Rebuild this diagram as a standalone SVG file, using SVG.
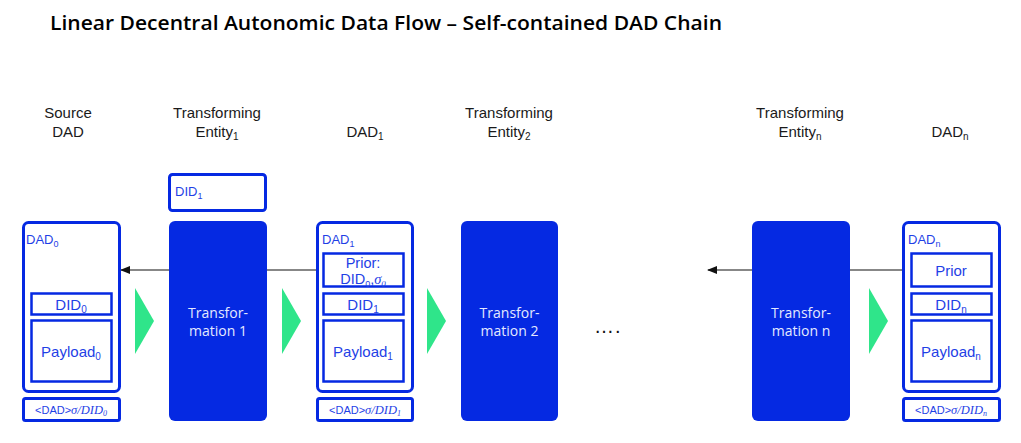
<svg xmlns="http://www.w3.org/2000/svg" width="1021" height="443" viewBox="0 0 1021 443">
<style>
.hd{font-family:"Liberation Sans",Arial,sans-serif;font-size:15px;fill:#1a1a1a;text-anchor:middle}
.title{font-family:"Open Sans","Liberation Sans",sans-serif;font-size:20px;font-weight:600;fill:#000}
.box{fill:#fff;stroke:#0529e2;stroke-width:3}
.in{fill:#fff;stroke:#0529e2;stroke-width:2.5}
.tr{fill:#0529e2}
.trt{font-family:"Open Sans","Liberation Sans",sans-serif;font-size:14px;fill:#e4e9ff;text-anchor:middle}
.bt{font-family:"Liberation Sans",Arial,sans-serif;fill:#1f3fe6;text-anchor:middle}
.lb{font-family:"Liberation Sans",Arial,sans-serif;font-size:13px;fill:#1f3fe6}
.mt{font-family:"Liberation Serif","DejaVu Serif",serif;font-style:italic}
.gr{fill:#2fe58a}
.ln{stroke:#111;stroke-width:1.2;fill:none}
</style>
<defs>
<marker id="ah" markerWidth="10" markerHeight="8" refX="9" refY="4" orient="auto" markerUnits="userSpaceOnUse">
<path d="M0,0 L10,4 L0,8 Z" fill="#111"/>
</marker>
</defs>
<rect width="1021" height="443" fill="#fff"/>
<text class="title" x="50" y="30" textLength="672" lengthAdjust="spacingAndGlyphs">Linear Decentral Autonomic Data Flow – Self-contained DAD Chain</text>

<g id="headers">
<text class="hd" x="68" y="118">Source</text>
<text class="hd" x="68" y="137">DAD</text>
<text class="hd" x="217" y="118">Transforming</text>
<text class="hd" x="217" y="137">Entity<tspan font-size="10" dy="3">1</tspan></text>
<text class="hd" x="365" y="137">DAD<tspan font-size="10" dy="3">1</tspan></text>
<text class="hd" x="509" y="118">Transforming</text>
<text class="hd" x="509" y="137">Entity<tspan font-size="10" dy="3">2</tspan></text>
<text class="hd" x="800" y="118">Transforming</text>
<text class="hd" x="800" y="137">Entity<tspan font-size="10" dy="3">n</tspan></text>
<text class="hd" x="950" y="137">DAD<tspan font-size="10" dy="3">n</tspan></text>
</g>

<g id="connectors">
<line class="ln" x1="169" y1="270" x2="121" y2="270" marker-end="url(#ah)"/>
<line class="ln" x1="267" y1="270" x2="323" y2="270"/>
<line class="ln" x1="752" y1="270" x2="708" y2="270" marker-end="url(#ah)"/>
<line class="ln" x1="850" y1="270" x2="911" y2="270"/>
</g>

<g id="flow-arrows">
<polygon class="gr" points="135,288 154,321 135,354"/>
<polygon class="gr" points="282,288 301,321 282,354"/>
<polygon class="gr" points="427,288 446,321 427,354"/>
<polygon class="gr" points="869,288 888,321 869,354"/>
</g>

<g id="source-dad">
<rect class="box" x="23.5" y="222.5" width="96" height="169" rx="5"/>
<text class="lb" x="26" y="244">DAD<tspan font-size="9" dy="3">0</tspan></text>
<rect class="in" x="31.5" y="293.5" width="80" height="21"/>
<text class="bt" font-size="15" x="71" y="310">DID<tspan font-size="10" dy="3">0</tspan></text>
<rect class="in" x="31.5" y="320.5" width="80" height="61"/>
<text class="bt" font-size="15" x="71" y="357">Payload<tspan font-size="10" dy="3">0</tspan></text>
<rect class="box" x="23.5" y="398.5" width="96" height="22" rx="2"/>
<text class="bt" font-size="11" x="71" y="414">&lt;DAD&gt;<tspan class="mt" font-size="12.5">σ/DID</tspan><tspan class="mt" font-size="8" dy="2">0</tspan></text>
</g>

<g id="did1">
<rect class="box" x="169.5" y="174.5" width="96" height="36" rx="3"/>
<text class="lb" x="175" y="196">DID<tspan font-size="9" dy="3">1</tspan></text>
</g>

<g id="transformation-1">
<rect class="tr" x="169" y="221" width="98" height="200" rx="6"/>
<text class="trt" x="218" y="318">Transfor-</text>
<text class="trt" x="218" y="336">mation 1</text>
</g>

<g id="dad-1">
<rect class="box" x="317.5" y="222.5" width="95" height="169" rx="5"/>
<text class="lb" x="322" y="244">DAD<tspan font-size="9" dy="3">1</tspan></text>
<rect class="in" x="323.5" y="253.5" width="80" height="33"/>
<text class="bt" font-size="14.5" x="363" y="268">Prior:</text>
<text class="bt" font-size="14.5" x="363" y="284">DID<tspan font-size="9" dy="3">0</tspan><tspan dy="-3">,</tspan><tspan class="mt">σ</tspan><tspan class="mt" font-size="9" dy="3">0</tspan></text>
<rect class="in" x="323.5" y="293.5" width="80" height="21"/>
<text class="bt" font-size="15" x="363" y="310">DID<tspan font-size="10" dy="3">1</tspan></text>
<rect class="in" x="323.5" y="320.5" width="80" height="61"/>
<text class="bt" font-size="15" x="363" y="357">Payload<tspan font-size="10" dy="3">1</tspan></text>
<rect class="box" x="317.5" y="398.5" width="95" height="22" rx="2"/>
<text class="bt" font-size="11" x="365" y="414">&lt;DAD&gt;<tspan class="mt" font-size="12.5">σ/DID</tspan><tspan class="mt" font-size="8" dy="2">1</tspan></text>
</g>

<g id="transformation-2">
<rect class="tr" x="461" y="221" width="97" height="200" rx="6"/>
<text class="trt" x="509.5" y="318">Transfor-</text>
<text class="trt" x="509.5" y="336">mation 2</text>
</g>

<g id="ellipsis">
<text font-family="Liberation Sans,Arial,sans-serif" font-size="20" fill="#111" x="594" y="333" letter-spacing="1">….</text>
</g>

<g id="transformation-n">
<rect class="tr" x="752" y="221" width="98" height="200" rx="6"/>
<text class="trt" x="801" y="318">Transfor-</text>
<text class="trt" x="801" y="336">mation n</text>
</g>

<g id="dad-n">
<rect class="box" x="903.5" y="222.5" width="96" height="169" rx="5"/>
<text class="lb" x="908" y="244">DAD<tspan font-size="9" dy="3">n</tspan></text>
<rect class="in" x="911.5" y="253.5" width="80" height="33"/>
<text class="bt" font-size="15" x="951" y="276">Prior</text>
<rect class="in" x="911.5" y="293.5" width="80" height="21"/>
<text class="bt" font-size="15" x="951" y="310">DID<tspan font-size="10" dy="3">n</tspan></text>
<rect class="in" x="911.5" y="320.5" width="80" height="61"/>
<text class="bt" font-size="15" x="951" y="357">Payload<tspan font-size="10" dy="3">n</tspan></text>
<rect class="box" x="903.5" y="398.5" width="96" height="22" rx="2"/>
<text class="bt" font-size="11" x="951" y="414">&lt;DAD&gt;<tspan class="mt" font-size="12.5">σ/DID</tspan><tspan class="mt" font-size="8" dy="2">n</tspan></text>
</g>
</svg>
